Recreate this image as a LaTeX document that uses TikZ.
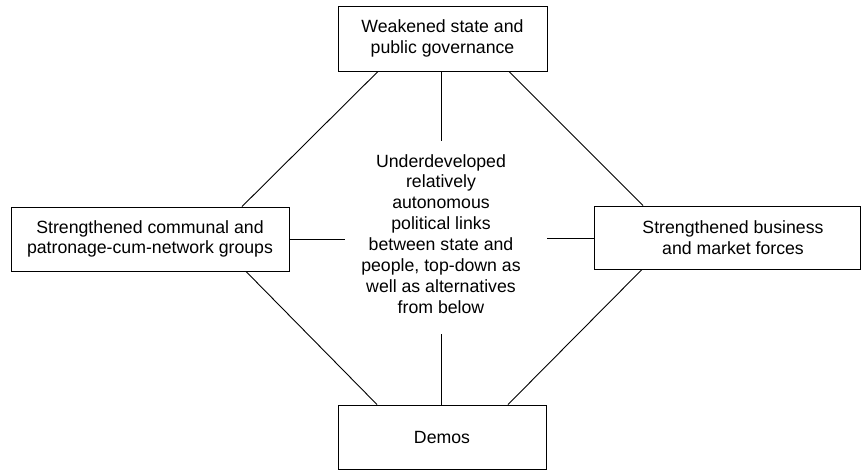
\documentclass[tikz,border=0pt]{standalone}
\usepackage{fontspec}
\setmainfont{Liberation Sans}
\begin{document}
\begin{tikzpicture}[x=1pt,y=-1pt,
  box/.style={draw, line width=0.9pt, inner sep=0pt, align=center, font=\fontsize{17.7}{20.5}\selectfont},
  midtext/.style={inner sep=0pt, align=center, font=\fontsize{17.7}{20.9}\selectfont},
  link/.style={line width=0.9pt}]
\useasboundingbox (0,0) rectangle (861,470);
\node[box, minimum width=209pt, minimum height=65pt] (top) at (442.5,38.5) {Weakened state and\\public governance};
\node[box, minimum width=278pt, minimum height=64pt] (left) at (150,239) {Strengthened communal and\\patronage-cum-network groups};
\node[box, minimum width=266pt, minimum height=63pt] (right) at (727,237.5) {\hspace*{12pt}Strengthened business\\\hspace*{12pt}and market forces};
\node[box, minimum width=208pt, minimum height=64pt] (bottom) at (442,437) {Demos};
\node[midtext, anchor=north] (mid) at (441,154) {Underdeveloped\\relatively\\autonomous\\political links\\between state and\\people, top-down as\\well as alternatives\\from below};
\coordinate (mt) at (441,141);
\coordinate (mb) at (441,334);
\coordinate (ml) at (345,239);
\coordinate (mr) at (547,238);
\draw[link] (top.south -| mt) -- (mt);
\draw[link] (bottom.north -| mb) -- (mb);
\draw[link] (left.east |- ml) -- (ml);
\draw[link] (right.west |- mr) -- (mr);
\draw[link] ([xshift=-64.5pt]top.south) -- ([xshift=92pt]left.north);
\draw[link] ([xshift=66.5pt]top.south) -- ([xshift=-84pt]right.north);
\draw[link] ([xshift=96pt]left.south) -- ([xshift=-65pt]bottom.north);
\draw[link] ([xshift=-85pt]right.south) -- ([xshift=66pt]bottom.north);
\end{tikzpicture}
\end{document}
